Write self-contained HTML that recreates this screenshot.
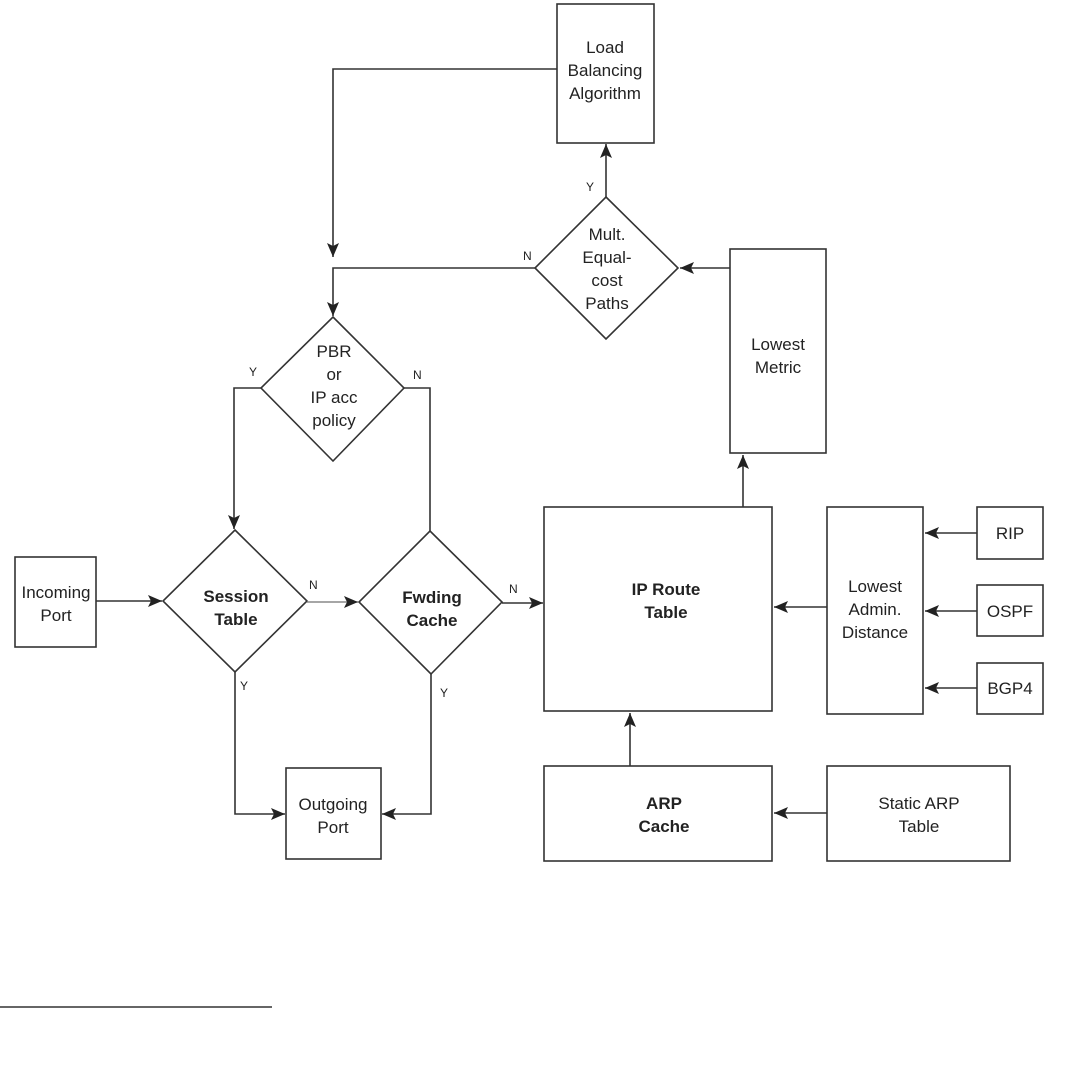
<!DOCTYPE html>
<html><head><style>
html,body{margin:0;padding:0;background:#fff;}
svg{display:block;}
text{font-family:"Liberation Sans",Arial,sans-serif;fill:#222;}
.t{font-size:17px;text-anchor:middle;}
.b{font-size:17px;text-anchor:middle;font-weight:bold;}
.s{font-size:12px;}
</style></head><body>
<svg width="1070" height="1065" viewBox="0 0 1070 1065" xmlns="http://www.w3.org/2000/svg">
<defs>
<marker id="a" viewBox="0 0 14 12" refX="14" refY="6" markerWidth="14" markerHeight="12" markerUnits="userSpaceOnUse" orient="auto">
<path d="M0,0 L14,6 L0,12 L3,6 Z" fill="#222"/>
</marker>
</defs>
<g fill="none" stroke="#333" stroke-width="1.6">
<rect x="557" y="4" width="97" height="139"/>
<rect x="730" y="249" width="96" height="204"/>
<rect x="15" y="557" width="81" height="90"/>
<rect x="286" y="768" width="95" height="91"/>
<rect x="544" y="507" width="228" height="204"/>
<rect x="827" y="507" width="96" height="207"/>
<rect x="977" y="507" width="66" height="52"/>
<rect x="977" y="585" width="66" height="51"/>
<rect x="977" y="663" width="66" height="51"/>
<rect x="544" y="766" width="228" height="95"/>
<rect x="827" y="766" width="183" height="95"/>
<polygon points="606,197 678,268 606,339 535,268"/>
<polygon points="333,317 404,388 333,461 261,388"/>
<polygon points="235,530 307,601 235,672 163,601"/>
<polygon points="430,531 502,602 431,674 359,602"/>
<polyline points="557,69 333,69 333,257" marker-end="url(#a)"/>
<polyline points="535,268 333,268 333,316" marker-end="url(#a)"/>
<line x1="606" y1="197" x2="606" y2="144" marker-end="url(#a)"/>
<line x1="730" y1="268" x2="680" y2="268" marker-end="url(#a)"/>
<line x1="743" y1="507" x2="743" y2="455" marker-end="url(#a)"/>
<polyline points="261,388 234,388 234,529" marker-end="url(#a)"/>
<polyline points="404,388 430,388 430,531"/>
<line x1="96" y1="601" x2="162" y2="601" marker-end="url(#a)"/>
<line x1="307" y1="602" x2="358" y2="602" stroke="#888" marker-end="url(#a)"/>
<line x1="502" y1="603" x2="543" y2="603" marker-end="url(#a)"/>
<polyline points="235,672 235,814 285,814" marker-end="url(#a)"/>
<polyline points="431,674 431,814 382,814" marker-end="url(#a)"/>
<line x1="827" y1="607" x2="774" y2="607" marker-end="url(#a)"/>
<line x1="977" y1="533" x2="925" y2="533" marker-end="url(#a)"/>
<line x1="977" y1="611" x2="925" y2="611" marker-end="url(#a)"/>
<line x1="977" y1="688" x2="925" y2="688" marker-end="url(#a)"/>
<line x1="630" y1="766" x2="630" y2="713" marker-end="url(#a)"/>
<line x1="827" y1="813" x2="774" y2="813" marker-end="url(#a)"/>
<line x1="0" y1="1007" x2="272" y2="1007"/>
</g>
<text class="t" x="605" y="53">Load</text>
<text class="t" x="605" y="76">Balancing</text>
<text class="t" x="605" y="99">Algorithm</text>
<text class="t" x="607" y="240">Mult.</text>
<text class="t" x="607" y="263">Equal-</text>
<text class="t" x="607" y="286">cost</text>
<text class="t" x="607" y="309">Paths</text>
<text class="t" x="778" y="350">Lowest</text>
<text class="t" x="778" y="373">Metric</text>
<text class="t" x="334" y="357">PBR</text>
<text class="t" x="334" y="380">or</text>
<text class="t" x="334" y="403">IP acc</text>
<text class="t" x="334" y="426">policy</text>
<text class="b" x="236" y="602">Session</text>
<text class="b" x="236" y="625">Table</text>
<text class="b" x="432" y="603">Fwding</text>
<text class="b" x="432" y="626">Cache</text>
<text class="t" x="56" y="598">Incoming</text>
<text class="t" x="56" y="621">Port</text>
<text class="t" x="333" y="810">Outgoing</text>
<text class="t" x="333" y="833">Port</text>
<text class="b" x="666" y="595">IP Route</text>
<text class="b" x="666" y="618">Table</text>
<text class="t" x="875" y="592">Lowest</text>
<text class="t" x="875" y="615">Admin.</text>
<text class="t" x="875" y="638">Distance</text>
<text class="t" x="1010" y="539">RIP</text>
<text class="t" x="1010" y="617">OSPF</text>
<text class="t" x="1010" y="694">BGP4</text>
<text class="b" x="664" y="809">ARP</text>
<text class="b" x="664" y="832">Cache</text>
<text class="t" x="919" y="809">Static ARP</text>
<text class="t" x="919" y="832">Table</text>
<text class="s" x="586" y="191">Y</text>
<text class="s" x="523" y="260">N</text>
<text class="s" x="249" y="376">Y</text>
<text class="s" x="413" y="379">N</text>
<text class="s" x="309" y="589">N</text>
<text class="s" x="509" y="593">N</text>
<text class="s" x="240" y="690">Y</text>
<text class="s" x="440" y="697">Y</text>
</svg>
</body></html>
